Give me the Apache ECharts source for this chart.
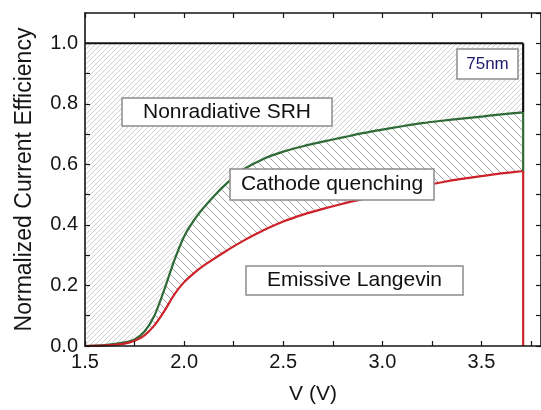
<!DOCTYPE html>
<html>
<head>
<meta charset="utf-8">
<script src="https://cdn.jsdelivr.net/npm/echarts@6/dist/echarts.min.js"></script>
<style>
  html, body { margin: 0; padding: 0; background: #fff; }
  #chart { width: 541px; height: 410px; }
</style>
</head>
<body>
<div id="chart"></div>
<script>
// Bias voltage (V) shared by both efficiency curves
const voltage = [1.50, 1.60, 1.70, 1.75, 1.80, 1.85, 1.90, 1.95, 2.00, 2.05, 2.10, 2.15, 2.20, 2.25, 2.30,
                 2.40, 2.50, 2.60, 2.70, 2.80, 2.90, 3.00, 3.10, 3.20, 3.30, 3.40, 3.50, 3.60, 3.71];
// Upper boundary: emissive + cathode-quenched fraction (green)
const quenchBound = [0.000, 0.003, 0.012, 0.022, 0.048, 0.100, 0.186, 0.282, 0.362, 0.416, 0.458, 0.495, 0.528, 0.558, 0.584,
                     0.618, 0.642, 0.660, 0.675, 0.689, 0.703, 0.715, 0.726, 0.736, 0.744, 0.751, 0.758, 0.765, 0.772];
// Emissive Langevin fraction (red)
const emissive = [0.000, 0.002, 0.008, 0.017, 0.035, 0.068, 0.115, 0.170, 0.211, 0.241, 0.266, 0.288, 0.309, 0.329, 0.348,
                  0.382, 0.411, 0.434, 0.453, 0.470, 0.485, 0.500, 0.514, 0.528, 0.541, 0.552, 0.561, 0.570, 0.578];
// Total normalized efficiency ceiling
const ceiling = 1.0;

const xTickLabels = ['1.5', '2.0', '2.5', '3.0', '3.5'];
const yTickLabels = ['0.0', '0.2', '0.4', '0.6', '0.8', '1.0'];

const vStart = voltage[0];
const vEnd = voltage[voltage.length - 1];
const greenEnd = quenchBound[quenchBound.length - 1];
const redEnd = emissive[emissive.length - 1];

// Diagonal hatch tile used as a repeating fill pattern
function hatch(size, dir, color, lineWidth, bg) {
  const c = document.createElement('canvas');
  c.width = size; c.height = size;
  const g = c.getContext('2d');
  if (bg) { g.fillStyle = bg; g.fillRect(0, 0, size, size); }
  g.strokeStyle = color;
  g.lineWidth = lineWidth;
  g.beginPath();
  for (const k of [-size, 0, size]) {
    if (dir === '/') { g.moveTo(k, size); g.lineTo(k + size, 0); }
    else { g.moveTo(k, 0); g.lineTo(k + size, size); }
  }
  g.stroke();
  return c;
}

const srhFill = { image: hatch(5, '/', '#c4c4c4', 0.8, '#ffffff'), repeat: 'repeat' };
const quenchFill = { image: hatch(8, '\\', '#999999', 0.9, '#ffffff'), repeat: 'repeat' };

const fontFamily = '"Liberation Sans", Arial, Helvetica, sans-serif';
const axisColor = '#151515';

function fmtX(v) {
  const s = v.toFixed(1);
  return (Math.abs(v * 2 - Math.round(v * 2)) < 1e-6 && xTickLabels.includes(s)) ? s : '';
}
function fmtY(v) {
  const s = v.toFixed(1);
  return (Math.abs(v * 5 - Math.round(v * 5)) < 1e-6 && yTickLabels.includes(s)) ? s : '';
}

const common = { min: 1.5, max: 3.8, interval: 0.25 };
const commonY = { min: 0, max: 1.1, interval: 0.1 };
const axisLine = { show: true, onZero: false, lineStyle: { color: axisColor, width: 1.6 } };
const axisTick = { show: true, inside: true, length: 5, lineStyle: { color: axisColor, width: 1.2 } };

// Boxed region annotation (white box, grey border, centred text)
function boxRect(x, y, w, h) {
  return { type: 'rect', z: 20, shape: { x: x, y: y, width: w, height: h },
           style: { fill: '#ffffff', stroke: '#8c8c8c', lineWidth: 1.5 } };
}
function boxText(x, y, w, h, text, size, color) {
  return { type: 'text', z: 21, x: x + w / 2, y: y + h / 2,
           style: { text: text, fill: color, fontSize: size, fontFamily: fontFamily,
                    align: 'center', verticalAlign: 'middle' } };
}
const boxes = [
  [122, 98, 210, 28, 'Nonradiative SRH', 21, '#111111'],
  [230, 169, 204, 31, 'Cathode quenching', 21, '#111111'],
  [246, 266, 217, 29, 'Emissive Langevin', 21, '#111111'],
  [457, 49, 61, 30, '75nm', 17, '#1f1a6e']
];
const graphicElements = [];
boxes.forEach(b => {
  graphicElements.push(boxRect(b[0], b[1], b[2], b[3]));
  graphicElements.push(boxText(b[0], b[1], b[2], b[3], b[4], b[5], b[6]));
});

const chart = echarts.init(document.getElementById('chart'), null, { renderer: 'canvas' });

chart.setOption({
  animation: false,
  backgroundColor: '#ffffff',
  grid: { left: 85, top: 13, width: 457, height: 339, containLabel: false },
  xAxis: [
    Object.assign({
      type: 'value', position: 'bottom', z: 10,
      name: 'V (V)', nameLocation: 'middle', nameGap: 38,
      nameTextStyle: { fontFamily, fontSize: 21, color: axisColor },
      axisLine, axisTick, splitLine: { show: false },
      axisLabel: { formatter: fmtX, margin: 6, fontFamily, fontSize: 20, color: axisColor,
                   showMaxLabel: false }
    }, common),
    Object.assign({
      type: 'value', position: 'top', z: 10,
      axisLine, axisTick, splitLine: { show: false }, axisLabel: { show: false }
    }, common)
  ],
  yAxis: [
    Object.assign({
      type: 'value', position: 'left', z: 10,
      name: 'Normalized Current Efficiency', nameLocation: 'middle', nameGap: 49,
      nameTextStyle: { fontFamily, fontSize: 23, color: axisColor },
      axisLine, axisTick, splitLine: { show: false },
      axisLabel: { formatter: fmtY, margin: 7, fontFamily, fontSize: 20, color: axisColor,
                   showMaxLabel: false }
    }, commonY),
    Object.assign({
      type: 'value', position: 'right', z: 10,
      axisLine, axisTick, splitLine: { show: false }, axisLabel: { show: false }
    }, commonY)
  ],
  series: [
    {
      name: 'Nonradiative SRH', type: 'line', showSymbol: false, z: 2,
      data: [[vStart, ceiling], [vEnd, ceiling]],
      lineStyle: { color: '#111111', width: 2.2 },
      areaStyle: { color: srhFill, opacity: 1 }
    },
    {
      name: 'Cathode quenching', type: 'line', showSymbol: false, smooth: 0.25, z: 3,
      data: voltage.map((v, i) => [v, quenchBound[i]]),
      lineStyle: { color: '#2f6b36', width: 2.2 },
      areaStyle: { color: quenchFill, opacity: 1 }
    },
    {
      name: 'Emissive Langevin', type: 'line', showSymbol: false, smooth: 0.25, z: 4,
      data: voltage.map((v, i) => [v, emissive[i]]),
      lineStyle: { color: '#cc2229', width: 2.2 },
      areaStyle: { color: '#ffffff', opacity: 1 }
    },
    // Vertical closing edges at the last measured voltage
    {
      type: 'line', showSymbol: false, z: 5,
      data: [[vEnd, ceiling], [vEnd, greenEnd]],
      lineStyle: { color: '#111111', width: 2.2 }
    },
    {
      type: 'line', showSymbol: false, z: 5,
      data: [[vEnd, greenEnd], [vEnd, redEnd]],
      lineStyle: { color: '#2f6b36', width: 2.2 }
    },
    {
      type: 'line', showSymbol: false, z: 5,
      data: [[vEnd, redEnd], [vEnd, 0]],
      lineStyle: { color: '#cc2229', width: 2.2 }
    }
  ],
  graphic: { elements: graphicElements }
});
</script>
</body>
</html>
